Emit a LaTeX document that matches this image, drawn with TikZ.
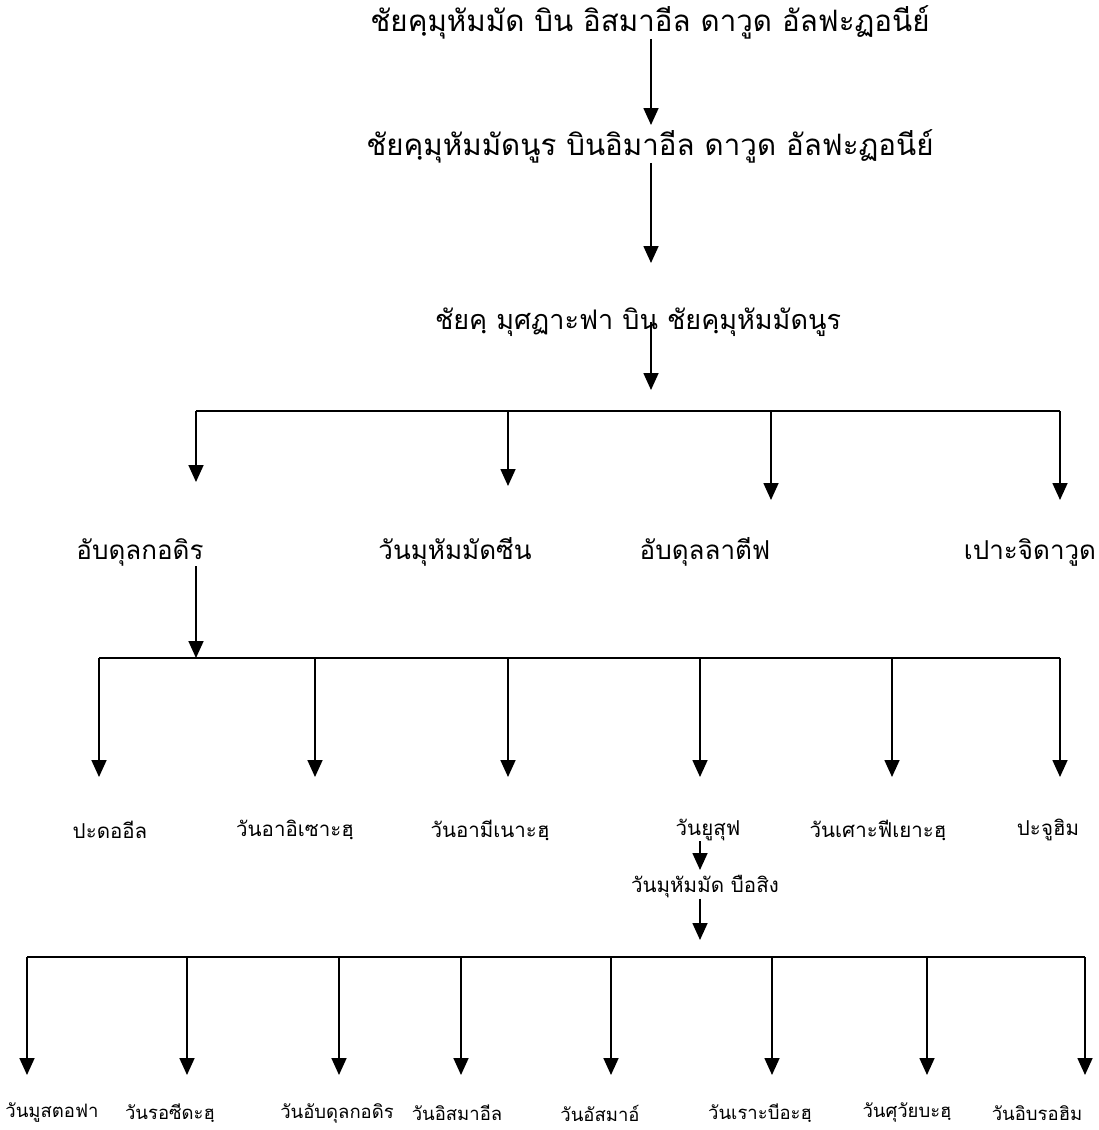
\documentclass[tikz,border=0pt]{standalone}
\usepackage{fontspec}
\usetikzlibrary{arrows.meta}
\newfontfamily\thaifont[Script=Thai]{Loma}

\begin{document}
\begin{tikzpicture}[x=1pt,y=-1pt,
    title/.style={font=\thaifont\fontsize{29.5}{32}\selectfont,inner sep=0pt},
    big/.style={font=\thaifont\fontsize{26}{30}\selectfont,inner sep=0pt},
    mid/.style={font=\thaifont\fontsize{20.5}{24}\selectfont,inner sep=0pt},
    small/.style={font=\thaifont\fontsize{18.5}{22}\selectfont,inner sep=0pt},
    arr/.style={line width=1.7pt,-{Triangle[length=17pt,width=15pt]}},
    bar/.style={line width=2.2pt}]
    \useasboundingbox (0,0) rectangle (1099,1130);
    % top of the line
    \node[title] (t1) at (650,22) {ชัยคฺมุหัมมัด บิน อิสมาอีล ดาวูด อัลฟะฏอนีย์};
    \node[title] (t2) at (650,146) {ชัยคฺมุหัมมัดนูร บินอิมาอีล ดาวูด อัลฟะฏอนีย์};
    \node[title,font=\thaifont\fontsize{27}{30}\selectfont] (t3) at (638,322) {ชัยคฺ มุศฏาะฟา บิน ชัยคฺมุหัมมัดนูร};
    \coordinate (bar1) at (651,411);
    \draw[arr] (t1.south -| bar1) -- (651,125);
    \draw[arr] (t2.south -| bar1) -- (651,263);
    \draw[arr] (t3.center -| bar1) -- (651,390);
    % sons
    \draw[bar] (196,411) -- (1060,411);
    \foreach \x/\t/\lx/\name/\txt in {196/482/140/ka/อับดุลกอดิร,508/486/455/kb/วันมุหัมมัดซีน,
                                      771/500/705/kc/อับดุลลาตีฟ,1060/500/1030/kd/เปาะจิดาวูด} {
        \coordinate (d\name) at (\x,\t);
        \draw[arr] (d\name |- bar1) -- (d\name);
        \node[big] (\name) at (\lx,552) {\txt};
    }
    % grandsons
    \coordinate (bar2) at (196,658);
    \draw[arr] (ka.south -| bar2) -- (bar2);
    \draw[bar] (99,658) -- (1060,658);
    \foreach \x/\lx/\name/\txt in {99/110/ga/ปะดออีล,315/295/gb/วันอาอิเซาะฮฺ,508/490/gc/วันอามีเนาะฮฺ,
                                   700/708/gd/วันยูสุฟ,892/878/ge/วันเศาะฟีเยาะฮฺ,1060/1048/gf/ปะจูฮิม} {
        \coordinate (d\name) at (\x,777);
        \draw[arr] (d\name |- bar2) -- (d\name);
        \node[mid] (\name) at (\lx,830) {\txt};
    }
    % next line
    \node[mid] (m1) at (705,887) {วันมุหัมมัด บือสิง};
    \coordinate (bar3) at (700,957);
    \draw[arr] (gd.south -| bar3) -- (700,870);
    \draw[arr] (m1.south -| bar3) -- (700,940);
    \draw[bar] (27,957) -- (1085,957);
    \foreach \x/\lx/\name/\txt in {27/52/ha/วันมูสตอฟา,187/170/hb/วันรอซีดะฮฺ,339/337/hc/วันอับดุลกอดิร,
                                   461/457/hd/วันอิสมาอีล,611/600/he/วันอัสมาอ์,772/760/hf/วันเราะบีอะฮฺ,
                                   927/907/hg/วันศุวัยบะฮฺ,1085/1037/hh/วันอิบรอฮิม} {
        \coordinate (d\name) at (\x,1075);
        \draw[arr] (d\name |- bar3) -- (d\name);
        \node[small] (\name) at (\lx,1113) {\txt};
    }
\end{tikzpicture}
\end{document}
